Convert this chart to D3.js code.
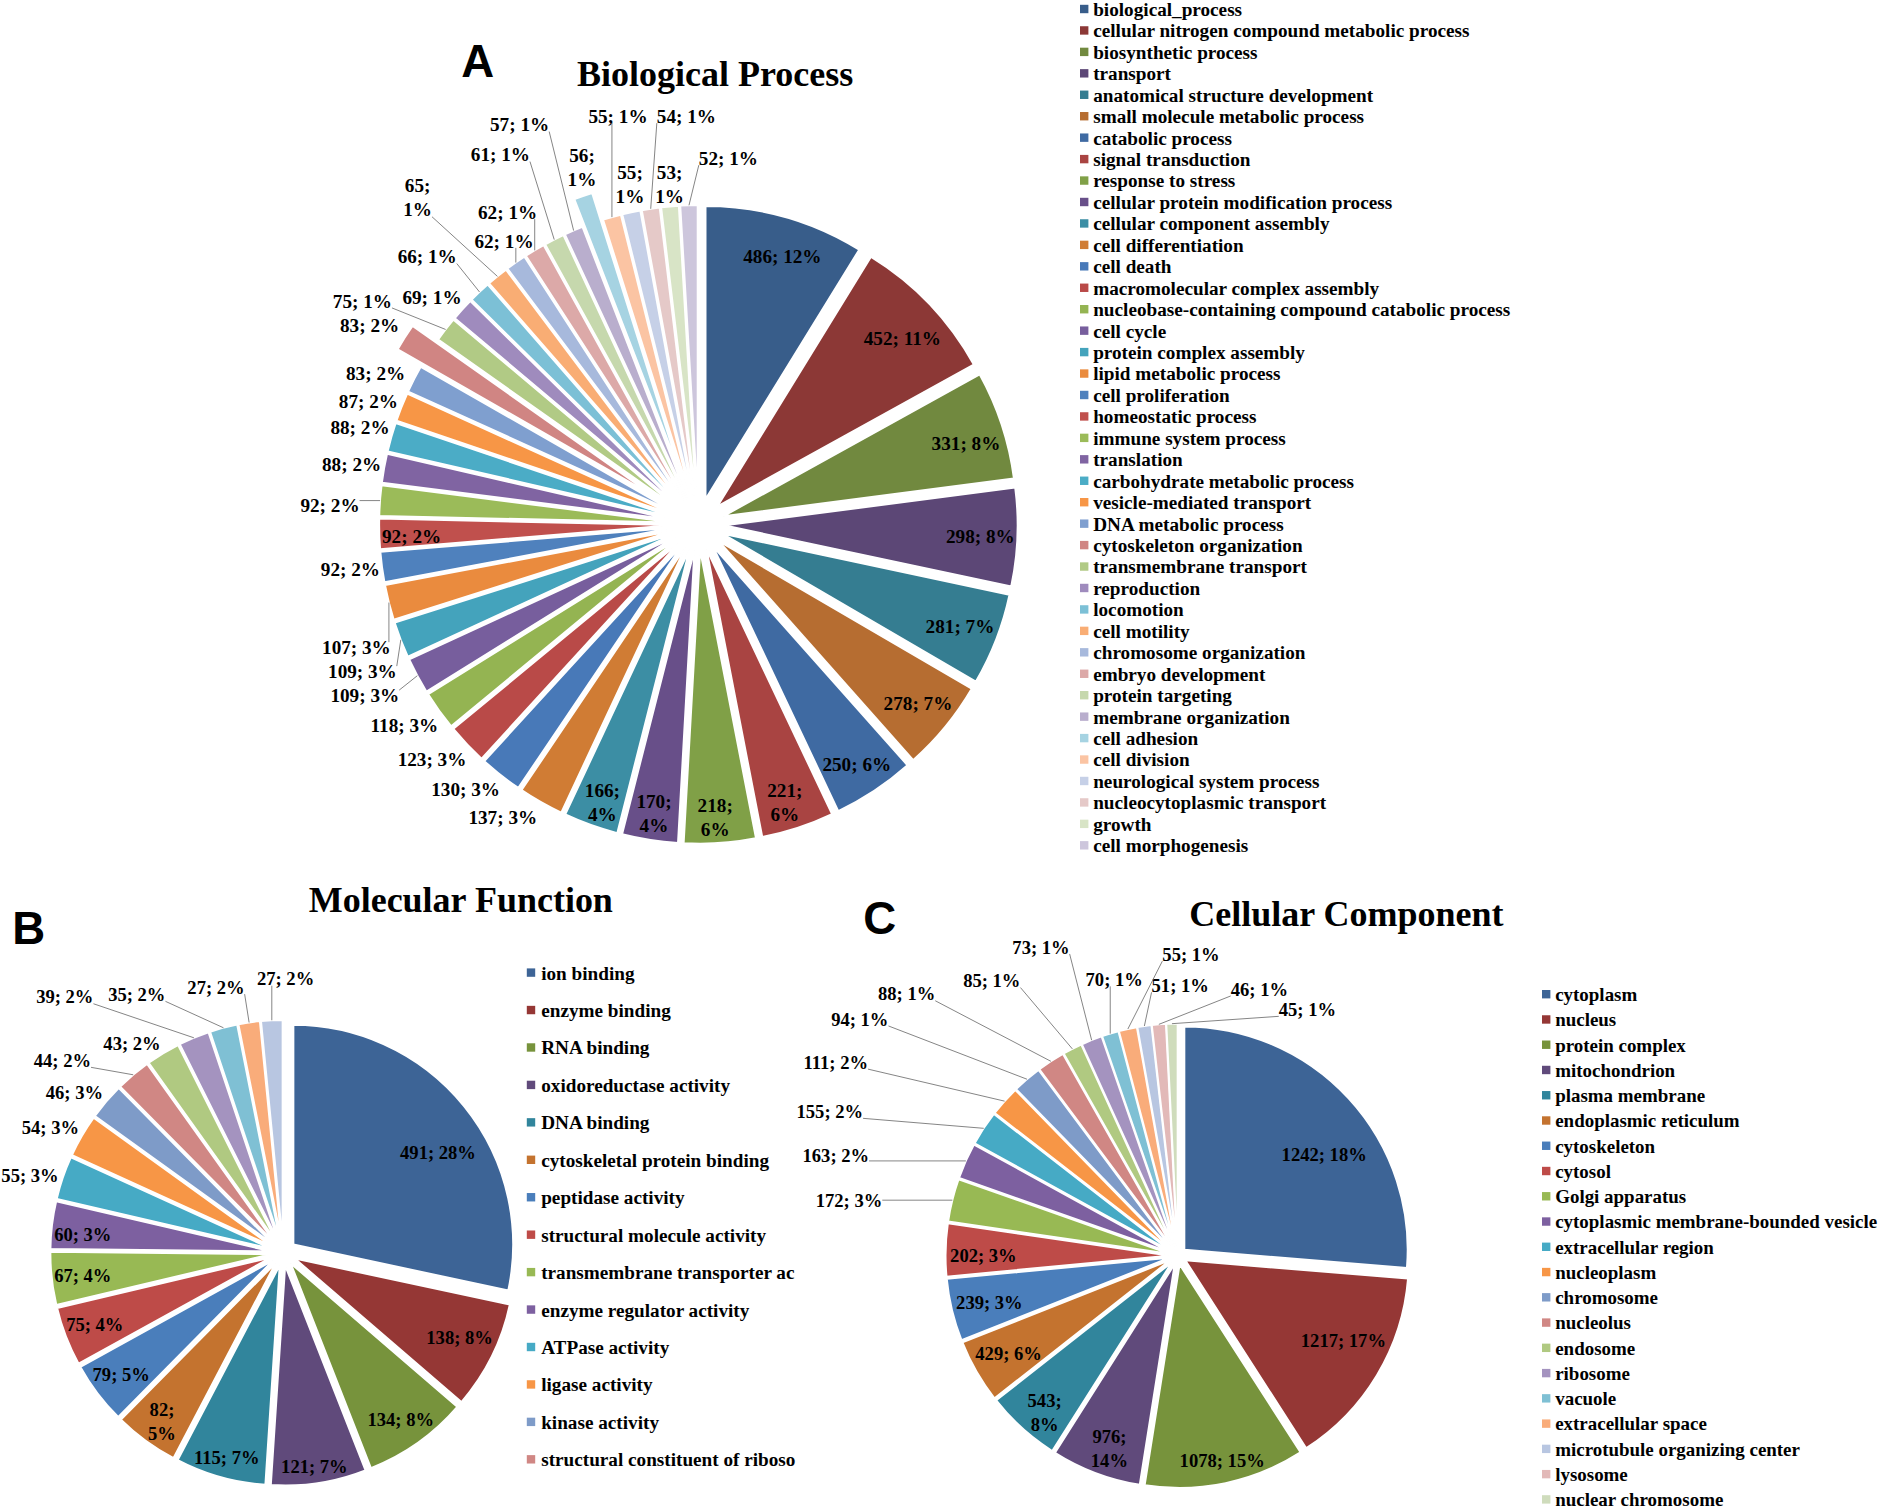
<!DOCTYPE html>
<html>
<head>
<meta charset="utf-8">
<script src="https://cdnjs.cloudflare.com/ajax/libs/d3/7.8.5/d3.min.js"></script>
<style>
body { margin: 0; background: #fff; }
text { font-family: "Liberation Serif", "Times New Roman", serif; font-weight: bold; fill: #000; }
.letter { font-family: "Liberation Sans", Arial, sans-serif; }
</style>
</head>
<body>
<div id="chart"></div>
<script>
// ---- A: Biological Process ----
var bpNames = ["biological_process", "cellular nitrogen compound metabolic process", "biosynthetic process", "transport",
    "anatomical structure development", "small molecule metabolic process", "catabolic process", "signal transduction",
    "response to stress", "cellular protein modification process", "cellular component assembly", "cell differentiation",
    "cell death", "macromolecular complex assembly", "nucleobase-containing compound catabolic process", "cell cycle",
    "protein complex assembly", "lipid metabolic process", "cell proliferation", "homeostatic process",
    "immune system process", "translation", "carbohydrate metabolic process", "vesicle-mediated transport",
    "DNA metabolic process", "cytoskeleton organization", "transmembrane transport", "reproduction", "locomotion",
    "cell motility", "chromosome organization", "embryo development", "protein targeting", "membrane organization",
    "cell adhesion", "cell division", "neurological system process", "nucleocytoplasmic transport", "growth",
    "cell morphogenesis"]
var bpCounts = [486, 452, 331, 298, 281, 278, 250, 221, 218, 170, 166, 137, 130, 123, 118, 109, 109, 107, 92, 92,
    92, 88, 88, 87, 83, 83, 75, 69, 66, 65, 62, 62, 61, 57, 56, 55, 55, 54, 53, 52]
var bpPct = [12, 11, 8, 8, 7, 7, 6, 6, 6, 4, 4, 3, 3, 3, 3, 3, 3, 3, 2, 2,
    2, 2, 2, 2, 2, 2, 1, 1, 1, 1, 1, 1, 1, 1, 1, 1, 1, 1, 1, 1]
var bpColors = ["#385d8a", "#8c3836", "#71893f", "#5c4776", "#357d91", "#b66d31",
    "#3f6aa2", "#a94442", "#80a047", "#684f89", "#3c8ea4", "#d07c34",
    "#4879b8", "#b94a48", "#94b452", "#775e9d", "#44a3bc", "#ea8b3e",
    "#4f81bd", "#c0504d", "#9bbb59", "#8064a2", "#4bacc6", "#f79646",
    "#7f9fcf", "#d08583", "#b1ca85", "#9f8bbd", "#7cc0d6", "#f9ad74",
    "#a7b9dc", "#dca9a8", "#c6d8ad", "#b9aecd", "#a6d3e2", "#fbc4a3",
    "#c6d0e7", "#e5c9c8", "#d8e4c6", "#cdc6dc"]

// ---- B: Molecular Function ----
// legend names as printed (two are cut short in the figure)
var mfNames = ["ion binding", "enzyme binding", "RNA binding", "oxidoreductase activity", "DNA binding",
    "cytoskeletal protein binding", "peptidase activity", "structural molecule activity",
    "transmembrane transporter ac", "enzyme regulator activity", "ATPase activity", "ligase activity",
    "kinase activity", "structural constituent of riboso"]
var mfCounts = [491, 138, 134, 121, 115, 82, 79, 75, 67, 60, 55, 54, 46, 44, 43, 39, 35, 27, 27]
var mfPct = [28, 8, 8, 7, 7, 5, 5, 4, 4, 3, 3, 3, 3, 2, 2, 2, 2, 2, 2]
var mfColors = ["#3d6496", "#953735", "#77933c", "#604a7b", "#31859c", "#c4732f",
    "#4a7ebb", "#be4b48", "#98b954", "#7d60a0", "#46aac5", "#f79646",
    "#7e9bc8", "#d08784", "#b0c981", "#a493bf", "#7fc0d4", "#f9ac7a", "#b8c6e1"]

// ---- C: Cellular Component ----
var ccNames = ["cytoplasm", "nucleus", "protein complex", "mitochondrion", "plasma membrane", "endoplasmic reticulum",
    "cytoskeleton", "cytosol", "Golgi apparatus", "cytoplasmic membrane-bounded vesicle", "extracellular region",
    "nucleoplasm", "chromosome", "nucleolus", "endosome", "ribosome", "vacuole", "extracellular space",
    "microtubule organizing center", "lysosome", "nuclear chromosome"]
var ccCounts = [1242, 1217, 1078, 976, 543, 429, 239, 202, 172, 163, 155, 111, 94, 88, 85, 73, 70, 55, 51, 46, 45]
var ccPct = [18, 17, 15, 14, 8, 6, 3, 3, 3, 2, 2, 2, 1, 1, 1, 1, 1, 1, 1, 1, 1]
// slice share (% of circle) as drawn in the figure - does not follow the counts
var ccShare = [26.3, 14.6, 11.6, 6.5, 5.4, 4.6, 4.5, 3.8, 3.1, 2.6, 2.5, 2.2, 2.1, 2.0, 1.4, 1.5, 1.2, 1.3, 1.0, 1.0, 0.8]
var ccColors = ["#3d6496", "#953735", "#77933c", "#604a7b", "#31859c", "#c4732f",
    "#4a7ebb", "#be4b48", "#98b954", "#7d60a0", "#46aac5", "#f79646",
    "#7e9bc8", "#d08784", "#b0c981", "#a493bf", "#7fc0d4", "#f9ac7a", "#b8c6e1", "#e2b9b8", "#cfdcbc"]

// label placement (offset from pie centre), layout only
var bpLabelAt = [[70, -223], [170, -155], [223, -67], [235, 10], [218, 85], [183, 149], [132, 200], [72, 232],
    [14, 244], [-37, 241], [-80, 232], [-163, 244], [-194, 221], [-222, 196], [-245, 168], [-278, 143],
    [-280, 123], [-285, 103], [-290, 38], [-239, 10], [-307, -16], [-289, -50], [-282, -81], [-275, -102],
    [-269, -126], [-274, -166], [-280, -186], [-222, -189], [-226, -223], [-234, -272], [-162, -236],
    [-159, -260], [-165, -308], [-149, -333], [-97, -297], [-67, -340], [-57, -283], [-10, -340], [-24, -283], [25, -305]]
var mfLabelAt = [[129, -83], [147, 71], [98, 139], [26, 178], [-47, 171], [-101, 141], [-135, 102], [-157, 60],
    [-167, 19], [-167, -15], [-211, -64], [-194, -104], [-174, -133], [-184, -160], [-126, -174], [-182, -213],
    [-122, -215], [-56, -221], [2, -228]]
var ccLabelAt = [[122, -84], [138, 71], [37, 171], [-57, 161], [-111, 131], [-141, 82], [-157, 39], [-162, 0],
    [-274, -46], [-285, -83], [-290, -120], [-285, -161], [-265, -197], [-226, -218], [-155, -229], [-114, -257],
    [-53, -230], [11, -251], [2, -225], [68, -222], [108, -205]]

var W = 1885, H = 1508, k = 1.2
var svg = d3.select("#chart").append("svg")
    .attr("width", W)
    .attr("height", H)
    .attr("viewBox", `0 0 ${W / k} ${H / k}`)
svg.append("rect").attr("width", W / k).attr("height", H / k).attr("fill", "#fff")

function drawPie(cfg) {
    var g = svg.append("g").attr("transform", `translate(${cfg.cx},${cfg.cy})`)
    var data = cfg.share.map((v, i) => ({ v: v, i: i }))
    var arcs = d3.pie().sort(null).value(d => d.v)(data)
    var arc = d3.arc().innerRadius(0).outerRadius(cfg.r)
    arcs.forEach((d, i) => {
        d.mid = (d.startAngle + d.endAngle) / 2
        d.off = cfg.explode + (cfg.pop.indexOf(i) >= 0 ? cfg.popExtra : 0)
        d.ox = d.off * Math.sin(d.mid)
        d.oy = -d.off * Math.cos(d.mid)
    })
    g.selectAll(".slice")
        .data(arcs)
        .enter()
        .append("path")
        .classed("slice", true)
        .attr("d", arc)
        .attr("transform", d => `translate(${d.ox},${d.oy})`)
        .attr("fill", (d, i) => cfg.colors[i])
        .attr("stroke", "#fff")
        .attr("stroke-width", 1.5)

    var labels = g.selectAll(".plabel")
        .data(arcs)
        .enter()
        .append("text")
        .classed("plabel", true)
        .attr("text-anchor", "middle")
        .attr("font-size", cfg.fontSize + "px")
    labels.each(function (d, i) {
        var t = d3.select(this)
        var p = cfg.labelAt[i]
        var first = cfg.counts[i] + ";"
        var second = cfg.pct[i] + "%"
        if (cfg.twoLine.indexOf(i) >= 0) {
            t.append("tspan").attr("x", p[0]).attr("y", p[1] - 10 + cfg.fontSize * 0.33).text(first)
            t.append("tspan").attr("x", p[0]).attr("y", p[1] + 10 + cfg.fontSize * 0.33).text(second)
        } else {
            t.attr("x", p[0]).attr("y", p[1] + cfg.fontSize * 0.33).text(first + " " + second)
        }
    })
    // leader lines for labels placed outside the pie
    labels.each(function (d, i) {
        var p = cfg.labelAt[i]
        if (Math.sqrt(p[0] * p[0] + p[1] * p[1]) <= cfg.r + d.off) return
        var bb = this.getBBox()
        var px = d.ox + cfg.r * Math.sin(d.mid)
        var py = d.oy - cfg.r * Math.cos(d.mid)
        var nx = Math.max(bb.x, Math.min(px, bb.x + bb.width))
        var ny = Math.max(bb.y + 4, Math.min(py, bb.y + bb.height - 3))
        if (Math.hypot(px - nx, py - ny) > 12) {
            g.append("line")
                .attr("x1", nx).attr("y1", ny)
                .attr("x2", px).attr("y2", py)
                .attr("stroke", "#7f7f7f")
                .attr("stroke-width", 0.8)
        }
    })
}

function drawLegend(names, colors, x, y0, step, fontSize, gap) {
    var row = svg.append("g").selectAll(".lrow")
        .data(names)
        .enter()
        .append("g")
        .attr("transform", (d, i) => `translate(${x},${y0 + i * step})`)
    row.append("rect")
        .attr("x", 0).attr("y", -4)
        .attr("width", 7).attr("height", 7)
        .attr("fill", (d, i) => colors[i])
    row.append("text")
        .attr("x", gap)
        .attr("y", fontSize * 0.33)
        .attr("font-size", fontSize + "px")
        .text(d => d)
}

function title(txt, x, y) {
    svg.append("text").attr("x", x).attr("y", y).attr("text-anchor", "middle")
        .attr("font-size", "30px").text(txt)
}
function letter(txt, x, y) {
    svg.append("text").classed("letter", true).attr("x", x).attr("y", y).attr("text-anchor", "middle")
        .attr("font-size", "38px").text(txt)
}

// A
letter("A", 398, 64)
title("Biological Process", 596, 72)
drawPie({
    cx: 582, cy: 437, r: 244, explode: 22, pop: [25, 34], popExtra: 24, fontSize: 16,
    share: bpCounts, counts: bpCounts, pct: bpPct, colors: bpColors, labelAt: bpLabelAt,
    twoLine: [7, 8, 9, 10, 29, 34, 36, 38]
})
drawLegend(bpNames, bpColors, 900, 8, 17.87, 16, 11)

// B
letter("B", 24, 787)
title("Molecular Function", 384, 760)
drawPie({
    cx: 236, cy: 1044, r: 183, explode: 11, pop: [], popExtra: 0, fontSize: 15.5,
    share: mfCounts, counts: mfCounts, pct: mfPct, colors: mfColors, labelAt: mfLabelAt,
    twoLine: [5]
})
drawLegend(mfNames, mfColors, 439, 811, 31.2, 16, 12)

// C
letter("C", 733, 778)
title("Cellular Component", 1122, 772)
drawPie({
    cx: 981.5, cy: 1046.5, r: 186, explode: 7.5, pop: [], popExtra: 0, fontSize: 15.5,
    share: ccShare, counts: ccCounts, pct: ccPct, colors: ccColors, labelAt: ccLabelAt,
    twoLine: [3, 4]
})
drawLegend(ccNames, ccColors, 1285, 829, 21.05, 15.8, 11)
</script>
</body>
</html>
